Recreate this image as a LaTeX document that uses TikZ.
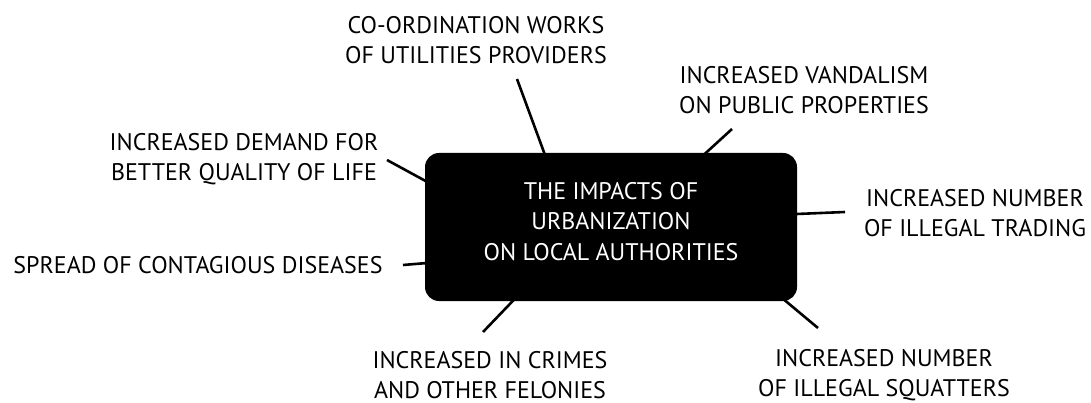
\documentclass[tikz,border=0pt]{standalone}
\usepackage{fontspec}
\setmainfont{PT Sans}
\usetikzlibrary{backgrounds}
\begin{document}
\begin{tikzpicture}[x=1pt,y=-1pt,
  lbl/.style={align=center,font=\fontsize{24}{30}\selectfont,inner sep=0pt,text=black},
  hub/.style={fill=black,rounded corners=14pt,minimum width=372pt,minimum height=148pt,
    align=center,text=white,font=\fontsize{24}{30.5}\selectfont,inner sep=0pt},
  conn/.style={line width=2.6pt,shorten <=-7pt}]
\useasboundingbox (0,0) rectangle (1091,403);
\node[hub] (box) at (611,227) {THE IMPACTS OF\\URBANIZATION\\ON LOCAL AUTHORITIES\\[-19pt]};
\node[lbl] (coord) at (476,40) {CO-ORDINATION WORKS\\OF UTILITIES PROVIDERS};
\node[lbl] (vand) at (804,90) {INCREASED VANDALISM\\ON PUBLIC PROPERTIES};
\node[lbl] (qual) at (244,159) {INCREASED DEMAND FOR\\BETTER QUALITY OF LIFE};
\node[lbl] (trade) at (975,213) {INCREASED NUMBER\\OF ILLEGAL TRADING};
\node[lbl] (spread) at (198,265) {SPREAD OF CONTAGIOUS DISEASES};
\node[lbl] (crime) at (490,375) {INCREASED IN CRIMES\\AND OTHER FELONIES};
\node[lbl] (squat) at (884,375) {INCREASED NUMBER\\OF ILLEGAL SQUATTERS};
\coordinate (ecoord) at (517,79);
\coordinate (evand) at (732,129);
\coordinate (equal) at (387,160);
\coordinate (etrade) at (845,212);
\coordinate (espread) at (403,265);
\coordinate (ecrime) at (483,332);
\coordinate (esquat) at (818,328);
\begin{scope}[on background layer]
\draw[conn] (box.132.2) -- (ecoord);
\draw[conn] (box.38) -- (evand);
\draw[conn] (box.166.4) -- (equal);
\draw[conn] (box.4.62) -- (etrade);
\draw[conn] (box.191.55) -- (espread);
\draw[conn] (box.217.6) -- (ecrime);
\draw[conn] (box.337.9) -- (esquat);
\end{scope}
\end{tikzpicture}
\end{document}
